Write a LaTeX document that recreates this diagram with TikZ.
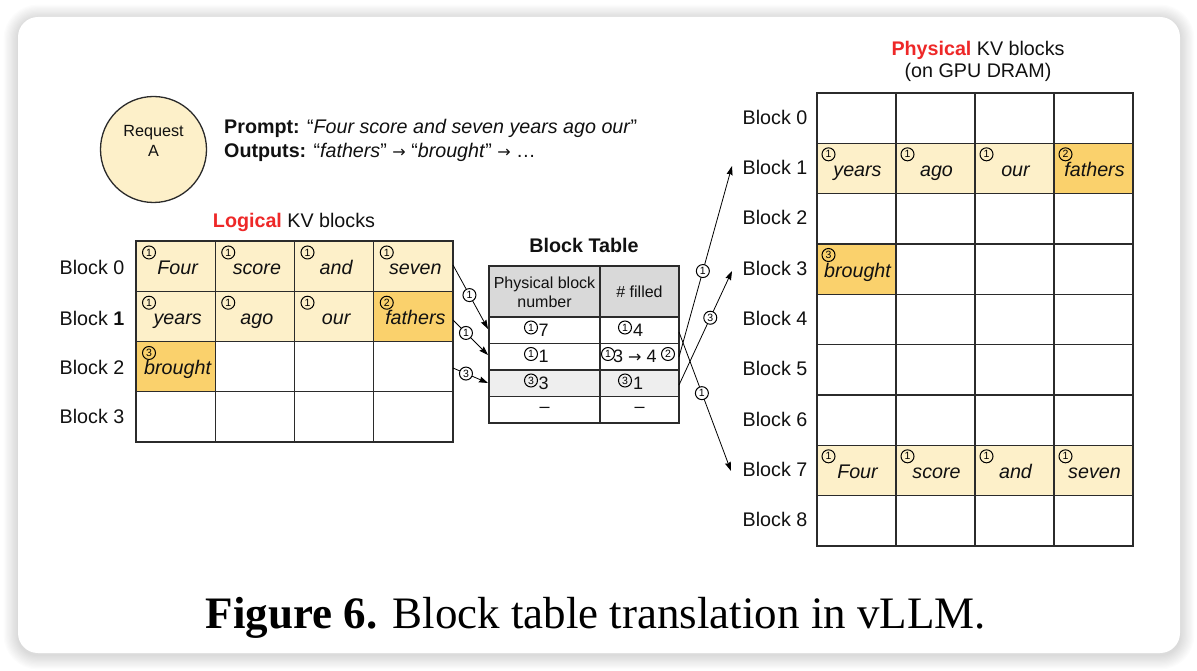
\documentclass[tikz,border=0pt]{standalone}
\usepackage{fontspec}
\setmainfont{Liberation Sans}
\newfontfamily\capfont{Liberation Serif}
\newfontfamily\arrfont{DejaVu Sans}
\usetikzlibrary{arrows.meta}

\definecolor{lightY}{HTML}{FDF0C9}
\definecolor{darkY}{HTML}{FAD16C}
\definecolor{hdrG}{HTML}{D9D9D9}
\definecolor{rowG}{HTML}{EEEEEE}
\definecolor{redT}{HTML}{EE2828}
\definecolor{lineC}{HTML}{2B2B2B}
\definecolor{txtC}{HTML}{111111}

\newcommand{\rarr}{{\arrfont\fontsize{16}{16}\selectfont →}}

\tikzset{
  cellbox/.style={draw=lineC, line width=1.3pt, minimum width=79.25pt, minimum height=50.3pt, inner sep=0pt, outer sep=0pt},
  tabcell/.style={draw=lineC, line width=1.3pt, minimum height=26.5pt, inner sep=0pt, outer sep=0pt},
  word/.style={font=\fontsize{19.7}{23}\selectfont\itshape, anchor=base, inner sep=0pt, text=txtC},
  lbl/.style={font=\fontsize{19.7}{23}\selectfont, anchor=base, inner sep=0pt, text=txtC},
  tab/.style={font=\fontsize{18}{21}\selectfont, anchor=base, inner sep=0pt, text=txtC},
  tabh/.style={font=\fontsize{16}{19}\selectfont, anchor=base, inner sep=0pt, text=txtC},
  cnum/.style={circle, draw=black, line width=1pt, inner sep=0pt, minimum size=13pt, font=\fontsize{10.5}{10.5}\selectfont},
  conn/.style={-{Stealth[length=9pt,width=6pt,inset=1pt]}, line width=0.8pt, black},
}

\begin{document}
\begin{tikzpicture}[x=1pt,y=-1pt]
\useasboundingbox[fill=white] (0,0) rectangle (1197,671);
% card shadow
\foreach \i in {1,...,12}{
  \draw[line width=\i*2.4pt, draw=black, draw opacity=0.011, rounded corners=20pt] (18,19) rectangle (1180,655);
}
\fill[white, rounded corners=20pt] (18,17) rectangle (1180,653);

% request
\node[circle, draw=lineC, line width=1.3pt, fill=lightY, minimum size=106pt, inner sep=0pt] (req) at (153.5,149.5) {};
\node[anchor=base, inner sep=0pt, font=\fontsize{16.2}{19}\selectfont, text=txtC] (reqa) at (153.5,137) {Request};
\node[anchor=base, inner sep=0pt, font=\fontsize{16.2}{19}\selectfont, text=txtC] (reqb) at (153.5,157) {A};
\node[lbl, anchor=base west] (prompt) at (224,134) {\textbf{Prompt:} “\textit{Four score and seven years ago our}”};
\node[lbl, anchor=base west] (outs) at (224,157.5) {\textbf{Outputs:} “\textit{fathers}” \rarr{} “\textit{brought}” \rarr{} …};

% logical blocks
\node[lbl] (ltitle) at (294,228) {\textcolor{redT}{\textbf{Logical}} KV blocks};
\foreach \r in {0,...,3}{\foreach \c in {0,...,3}{
  \node[cellbox] (L-\r-\c) at ({175.625+79.25*\c},{266.125+50.25*\r}) {};
}}
\foreach \r/\c/\col/\n/\w in {0/0/lightY/1/Four,0/1/lightY/1/score,0/2/lightY/1/and,0/3/lightY/1/seven,1/0/lightY/1/years,1/1/lightY/1/ago,1/2/lightY/1/our,1/3/darkY/2/fathers,2/0/darkY/3/brought}{
  \node[cellbox, fill=\col] (L-\r-\c) at ({175.625+79.25*\c},{266.125+50.25*\r}) {};
  \node[cnum] at ([shift={(13pt,-11.5pt)}]L-\r-\c.north west) {\n};
  \node[word] at ([shift={(2pt,-8pt)}]L-\r-\c.center) {\w};
}
\node[lbl] (LB0) at (92,275) {Block 0};
\node[lbl] (LB1) at (92,325) {Block \textbf{1}};
\node[lbl] (LB2) at (92,374) {Block 2};
\node[lbl] (LB3) at (92,423) {Block 3};

% block table
\node[lbl] (ttitle) at (584,253) {\textbf{Block Table}};
\node[tabcell, fill=hdrG, minimum width=111pt, minimum height=51pt] (T-0-1) at (544.5,291.5) {};
\node[tabcell, fill=hdrG, minimum width=79pt, minimum height=51pt] (T-0-2) at (639.5,291.5) {};
\foreach \r/\col in {1/white,2/white,3/rowG,4/white}{
  \node[tabcell, fill=\col, minimum width=111pt] (T-\r-1) at (544.5,{317+26.5*(\r-0.5)}) {};
  \node[tabcell, fill=\col, minimum width=79pt] (T-\r-2) at (639.5,{317+26.5*(\r-0.5)}) {};
}
\node[tabh] (h1a) at (544.5,288) {Physical block};
\node[tabh] (h1b) at (544.5,307) {number};
\node[tabh] (h2) at (639.5,297) {\# filled};
\node[cnum] (c11) at (531,327.5) {1}; \node[tab] (v11) at (543.5,336) {7};
\node[cnum] (c12) at (625,327.5) {1}; \node[tab] (v12) at (638,336) {4};
\node[cnum] (c21) at (531,354) {1};   \node[tab] (v21) at (543.5,362) {1};
\node[cnum] (c22) at (608,354) {1};   \node[tab, anchor=base west] (v22) at (613,362) {3 \rarr{} 4};
\node[cnum] (c22b) at (668,354) {2};
\node[cnum] (c31) at (531,380.5) {3}; \node[tab] (v31) at (543.5,389) {3};
\node[cnum] (c32) at (625,380.5) {3}; \node[tab] (v32) at (638,389) {1};
\node[tab, anchor=center] (v41) at (544.5,410) {–};
\node[tab, anchor=center] (v42) at (639.5,410) {–};

% physical blocks
\node[lbl] (ptitle) at (978,56) {\textcolor{redT}{\textbf{Physical}} KV blocks};
\node[lbl] (ptitle2) at (978,78) {(on GPU DRAM)};
\foreach \r in {0,...,8}{
  \foreach \c in {0,...,3}{
    \node[cellbox, minimum width=79pt, minimum height=50.33pt] (P-\r-\c) at ({856.5+79*\c},{118.17+50.33*\r}) {};
  }
  \node[lbl] (PB\r) at (775,{124.17+50.33*\r}) {Block \r};
}
\foreach \r/\c/\col/\n/\w in {1/0/lightY/1/years,1/1/lightY/1/ago,1/2/lightY/1/our,1/3/darkY/2/fathers,3/0/darkY/3/brought,7/0/lightY/1/Four,7/1/lightY/1/score,7/2/lightY/1/and,7/3/lightY/1/seven}{
  \node[cellbox, minimum width=79pt, minimum height=50.33pt, fill=\col] (P-\r-\c) at ({856.5+79*\c},{118.17+50.33*\r}) {};
  \node[cnum] at ([shift={(11.5pt,-11pt)}]P-\r-\c.north west) {\n};
  \node[word] at ([shift={(1pt,-8pt)}]P-\r-\c.center) {\w};
}

% connectors logical -> table
\coordinate (a1s) at (453,265); \coordinate (a1e) at (488,329);
\coordinate (a2s) at (453,320); \coordinate (a2e) at (488,355);
\coordinate (a3s) at (453,368); \coordinate (a3e) at (488,383);
\draw[conn] (a1s) -- node[cnum, fill=white, pos=0.47] {1} (a1e);
\draw[conn] (a2s) -- node[cnum, fill=white, pos=0.37] {1} (a2e);
\draw[conn] (a3s) -- node[cnum, fill=white, pos=0.37] {3} (a3e);

% connectors table -> physical
\coordinate (b1s) at (679,357); \coordinate (b1e) at (732,166);
\coordinate (b3s) at (679,385); \coordinate (b3e) at (732,271);
\coordinate (b7s) at (679,332); \coordinate (b7e) at (731,471);
\draw[conn] (b1s) -- node[cnum, fill=white, pos=0.45] {1} (b1e);
\draw[conn] (b3s) -- node[cnum, fill=white, pos=0.59] {3} (b3e);
\draw[conn] (b7s) -- node[cnum, fill=white, pos=0.44] {1} (b7e);

% caption
\node[anchor=base, inner sep=0pt, font=\capfont\fontsize{45}{50}\selectfont, text=black] (cap) at (596,628) {\textbf{Figure 6.} Block table translation in vLLM.};
\end{tikzpicture}
\end{document}
